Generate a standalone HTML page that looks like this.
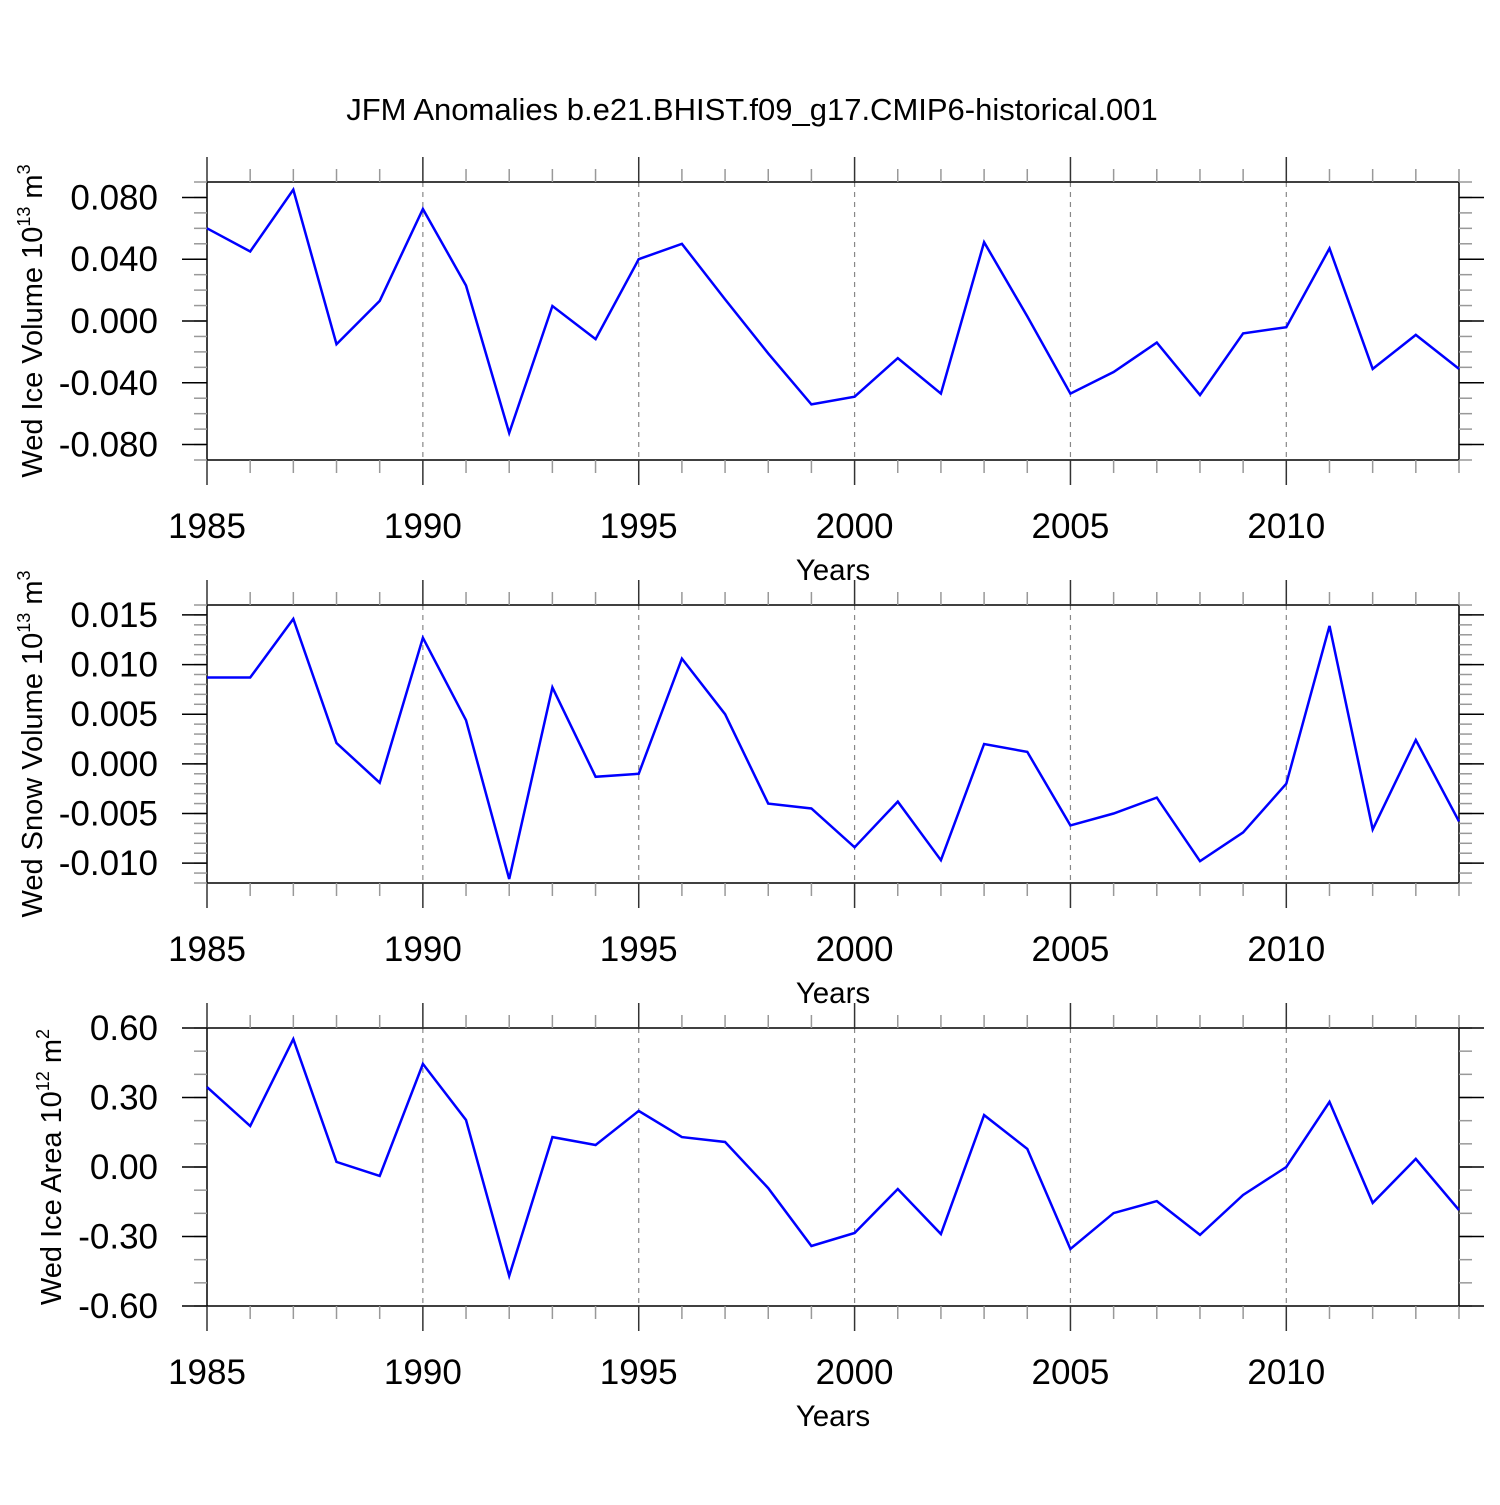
<!DOCTYPE html>
<html><head><meta charset="utf-8"><style>
html,body{margin:0;padding:0;background:#fff}
svg text{font-family:"Liberation Sans",Arial,sans-serif}
</style></head><body>
<svg id="chart" width="1500" height="1500" viewBox="0 0 1500 1500">
<text x="752" y="120" font-size="31" text-anchor="middle">JFM Anomalies b.e21.BHIST.f09_g17.CMIP6-historical.001</text>
</svg>
<script>
const years = [1985,1986,1987,1988,1989,1990,1991,1992,1993,1994,1995,1996,1997,1998,1999,2000,2001,2002,2003,2004,2005,2006,2007,2008,2009,2010,2011,2012,2013,2014];
const iceVolume = [0.060,0.045,0.085,-0.015,0.013,0.0725,0.023,-0.0725,0.0097,-0.0117,0.040,0.050,0.014,-0.021,-0.054,-0.049,-0.024,-0.047,0.051,0.003,-0.047,-0.033,-0.014,-0.048,-0.008,-0.004,0.047,-0.031,-0.009,-0.031];
const snowVolume = [0.0087,0.0087,0.0146,0.0021,-0.0019,0.0127,0.0044,-0.0116,0.0077,-0.0013,-0.0010,0.0106,0.0050,-0.0040,-0.0045,-0.0084,-0.0038,-0.0097,0.0020,0.0012,-0.0062,-0.0050,-0.0034,-0.0098,-0.0069,-0.0020,0.0139,-0.0066,0.0024,-0.0058];
const iceArea = [0.345,0.177,0.552,0.022,-0.039,0.445,0.203,-0.470,0.129,0.095,0.242,0.129,0.108,-0.091,-0.341,-0.285,-0.095,-0.289,0.224,0.078,-0.354,-0.199,-0.147,-0.293,-0.121,0,0.281,-0.155,0.035,-0.186];
const xTickLabels = [1985,1990,1995,2000,2005,2010];
const ticks1 = [-0.08,-0.04,0,0.04,0.08];
const tickLabels1 = ["-0.080","-0.040","0.000","0.040","0.080"];
const ticks2 = [-0.010,-0.005,0,0.005,0.010,0.015];
const tickLabels2 = ["-0.010","-0.005","0.000","0.005","0.010","0.015"];
const ticks3 = [-0.6,-0.3,0,0.3,0.6];
const tickLabels3 = ["-0.60","-0.30","0.00","0.30","0.60"];

const NS="http://www.w3.org/2000/svg";
const svg=document.getElementById('chart');
function mk(tag,attrs,parent){const e=document.createElementNS(NS,tag);for(const k in attrs)e.setAttribute(k,attrs[k]);(parent||svg).appendChild(e);return e;}
const L=207,R=1459;
function xs(yr){return L+(yr-1985)*(R-L)/29;}

function panel(top,ymin,ymax,values,ticks,labels,minorStep,ytitle,sup,unit,titleX,idx){
  const bot=top+278;
  const g=mk('g',{});
  
  
  const ys=v=>bot-(v-ymin)/(ymax-ymin)*(bot-top);
  for(const yr of xTickLabels){ if(yr===1985) continue;
    const gl=mk('line',{x1:xs(yr),x2:xs(yr),y1:top,y2:bot,stroke:'#888','stroke-width':1.2,'stroke-dasharray':'5,5'},g);
    
    
  }
  const box=mk('rect',{x:L,y:top,width:R-L,height:bot-top,fill:'none',stroke:'#000','stroke-width':1.5},g);
  
  
  for(let yr=1985;yr<=2014;yr++){
    const maj=(yr%5===0);const len=maj?25:13;const x=xs(yr);
    mk('line',{x1:x,x2:x,y1:top-len,y2:top,stroke:maj?'#333':'#999','stroke-width':1.5},g);
    mk('line',{x1:x,x2:x,y1:bot,y2:bot+len,stroke:maj?'#333':'#999','stroke-width':1.5},g);
  }
  for(const yr of xTickLabels){
    const t=mk('text',{x:xs(yr),y:bot+78,'font-size':35,'text-anchor':'middle'},g);
    t.textContent=yr;
    
    
  }
  const xt=mk('text',{x:833,y:bot+120,'font-size':29.5,'text-anchor':'middle'},g);
  xt.textContent='Years';
  
  
  const n=Math.round((ymax-ymin)/minorStep);
  for(let i=0;i<=n;i++){const v=ymin+i*minorStep;const y=ys(v);
    mk('line',{x1:L-13,x2:L,y1:y,y2:y,stroke:'#999','stroke-width':1.5},g);
    mk('line',{x1:R,x2:R+13,y1:y,y2:y,stroke:'#999','stroke-width':1.5},g);
  }
  ticks.forEach((v,i)=>{const y=ys(v);
    mk('line',{x1:L-25,x2:L,y1:y,y2:y,stroke:'#000','stroke-width':1.5},g);
    mk('line',{x1:R,x2:R+25,y1:y,y2:y,stroke:'#000','stroke-width':1.5},g);
    const t=mk('text',{x:158,y:y+12,'font-size':35,'text-anchor':'end'},g);
    t.textContent=labels[i];
    
    
  });
  const cy=top+139;
  const yt=mk('text',{x:titleX,y:cy,'font-size':29,'text-anchor':'middle',transform:`rotate(-90 ${titleX} ${cy})`},g);
  
  
  yt.appendChild(document.createTextNode(ytitle+' 10'));
  const s=mk('tspan',{dy:-12,'font-size':18},yt);s.textContent=sup;
  const u=mk('tspan',{dy:12,'font-size':29},yt);u.textContent=' m';
  const s2=mk('tspan',{dy:-12,'font-size':18},yt);s2.textContent=unit;
  const pts=values.map((v,i)=>xs(years[i]).toFixed(1)+','+ys(v).toFixed(1)).join(' ');
  const pl=mk('polyline',{points:pts,fill:'none',stroke:'#0000ff','stroke-width':2.5,'stroke-linejoin':'miter'},g);
  
  
}
panel(182,-0.09,0.09,iceVolume,ticks1,tickLabels1,0.01,'Wed Ice Volume','13','3',42,1);
panel(605,-0.012,0.016,snowVolume,ticks2,tickLabels2,0.001,'Wed Snow Volume','13','3',42,2);
panel(1028,-0.6,0.6,iceArea,ticks3,tickLabels3,0.1,'Wed Ice Area','12','2',61,3);
</script>
</body></html>
